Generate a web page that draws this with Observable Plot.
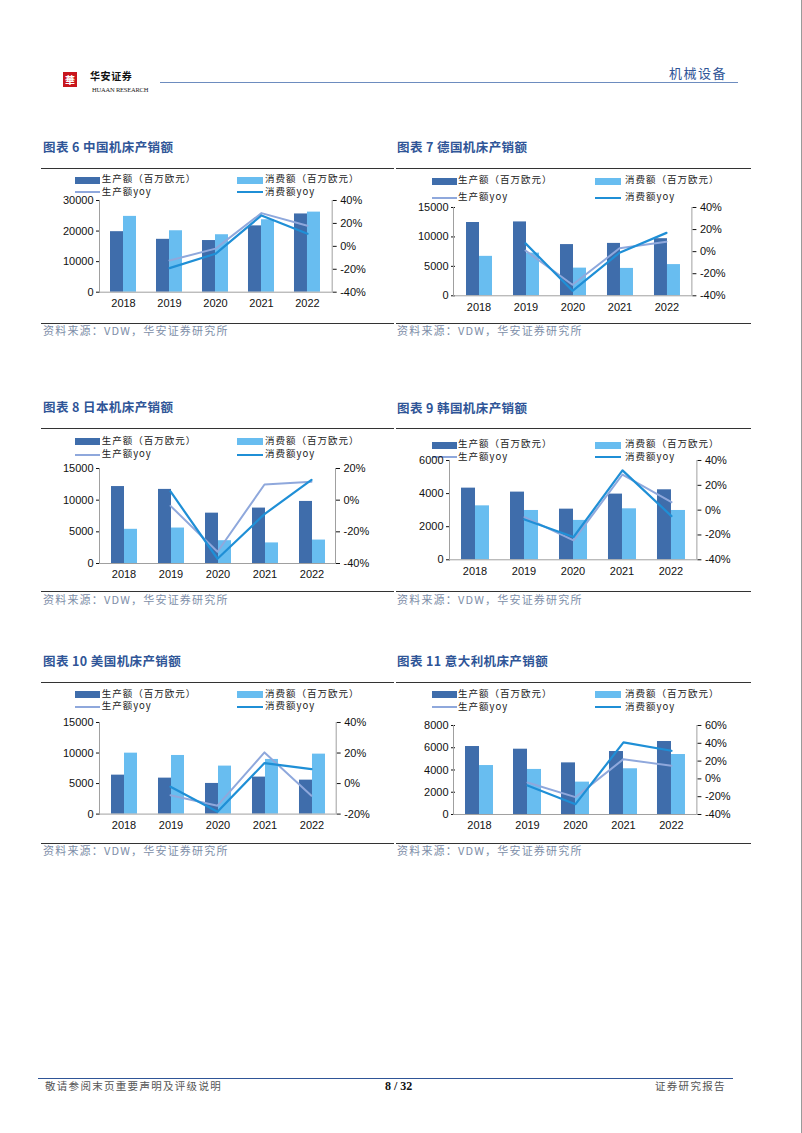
<!DOCTYPE html>
<html><head><meta charset="utf-8">
<script src="https://cdn.jsdelivr.net/npm/d3@7"></script>
<script src="https://cdn.jsdelivr.net/npm/@observablehq/plot@0.6"></script>
<style>
body{margin:0;background:#fff;}
#page{position:relative;width:802px;height:1133px;overflow:hidden;background:#fff;font-family:"Noto Sans CJK SC",sans-serif;border-right:1px solid #9a9a9a;box-sizing:border-box;}
.abs{position:absolute;white-space:nowrap;line-height:1;}
.rule{position:absolute;height:0;border-top:1px solid #333;}
.title{color:#2f5597;font-weight:bold;letter-spacing:0.4px;}
.src{color:#7d8ea8;letter-spacing:1.2px;}
.leg{letter-spacing:1px;color:#222;}
</style></head><body><div id="page"></div>
<script>
// ---------- data ----------
const years = ["2018","2019","2020","2021","2022"];
const seriesNames = ["生产额","消费额"];
const legendLabels = ["生产额（百万欧元）","消费额（百万欧元）","生产额yoy","消费额yoy"];
const sourceText = "资料来源：VDW，华安证券研究所";

const chinaProd = [19800,17300,16900,21700,25600];
const chinaCons = [24800,20100,18800,23700,26200];
const chinaProdYoy = [null,-12.4,-2,29,18];
const chinaConsYoy = [null,-19,-6.5,27,11];
const chinaLeftTicks = [0,10000,20000,30000];
const chinaRightTicks = [-40,-20,0,20,40];

const germanyProd = [12450,12550,8700,8900,9700];
const germanyCons = [6700,7250,4700,4650,5300];
const germanyProdYoy = [null,1,-30,3,9];
const germanyConsYoy = [null,7.5,-35.5,-1,17];
const germanyLeftTicks = [0,5000,10000,15000];
const germanyRightTicks = [-40,-20,0,20,40];

const japanProd = [12150,11700,7950,8750,9800];
const japanCons = [5400,5600,3600,3250,3700];
const japanProdYoy = [null,-3.6,-32.6,9.9,11.6];
const japanConsYoy = [null,5.5,-37,-8.8,12.8];
const japanLeftTicks = [0,5000,10000,15000];
const japanRightTicks = [-40,-20,0,20];

const koreaProd = [4330,4090,3060,3970,4230];
const koreaCons = [3260,2980,2380,3080,2980];
const koreaProdYoy = [null,-5.6,-24.4,28.7,6.4];
const koreaConsYoy = [null,-7.5,-21.7,32,-4.8];
const koreaLeftTicks = [0,2000,4000,6000];
const koreaRightTicks = [-40,-20,0,20,40];

const usProd = [6380,5890,5020,6060,5560];
const usCons = [9980,9600,7860,8950,9820];
const usProdYoy = [null,-7.6,-14.5,20.4,-8];
const usConsYoy = [null,-2.1,-18.5,13.4,9.5];
const usLeftTicks = [0,5000,10000,15000];
const usRightTicks = [-20,0,20,40];

const italyProd = [6110,5870,4640,5660,6560];
const italyCons = [4400,4050,2910,4110,5390];
const italyProdYoy = [null,-4,-20.5,22.2,14.7];
const italyConsYoy = [null,-7.4,-28.4,41,31.6];
const italyLeftTicks = [0,2000,4000,6000,8000];
const italyRightTicks = [-40,-20,0,20,40,60];

const C_PROD = "#3f6dab", C_CONS = "#68bdf0", C_PYOY = "#8fa8dc", C_CYOY = "#1f8fd6";

// ---------- layout ----------
const charts = [
  {title:"图表 6 中国机床产销额", prod:chinaProd, cons:chinaCons, py:chinaProdYoy, cy:chinaConsYoy, lt:chinaLeftTicks, rt:chinaRightTicks,
   px:43, L:99, R:331.7, T:200, B:291.7, titleY:148, topRule:167.7, botRule:322.7, srcY:331.7, legX:[75,101.7,236.7,265], legY:[180,192.3], rx:[41,394]},
  {title:"图表 7 德国机床产销额", prod:germanyProd, cons:germanyCons, py:germanyProdYoy, cy:germanyConsYoy, lt:germanyLeftTicks, rt:germanyRightTicks,
   px:397, L:453.3, R:691.7, T:206.7, B:295, titleY:148, topRule:167.7, botRule:322.7, srcY:331.7, legX:[431.7,458,595,625], legY:[181,197.7], rx:[396,751]},
  {title:"图表 8 日本机床产销额", prod:japanProd, cons:japanCons, py:japanProdYoy, cy:japanConsYoy, lt:japanLeftTicks, rt:japanRightTicks,
   px:43, L:99, R:335, T:467.7, B:562.7, titleY:408.7, topRule:428.3, botRule:591, srcY:600, legX:[75,101.7,236.7,265], legY:[441.7,455], rx:[41,394]},
  {title:"图表 9 韩国机床产销额", prod:koreaProd, cons:koreaCons, py:koreaProdYoy, cy:koreaConsYoy, lt:koreaLeftTicks, rt:koreaRightTicks,
   px:397, L:449.3, R:696.7, T:460, B:559.3, titleY:409, topRule:428.3, botRule:591, srcY:600, legX:[431.7,458,595,625], legY:[445,457.3], rx:[396,751]},
  {title:"图表 10 美国机床产销额", prod:usProd, cons:usCons, py:usProdYoy, cy:usConsYoy, lt:usLeftTicks, rt:usRightTicks,
   px:43, L:99, R:335.7, T:721.7, B:813.3, titleY:662, topRule:681.7, botRule:842.7, srcY:851.7, legX:[75,101.7,236.7,265], legY:[694.3,706.7], rx:[41,394]},
  {title:"图表 11 意大利机床产销额", prod:italyProd, cons:italyCons, py:italyProdYoy, cy:italyConsYoy, lt:italyLeftTicks, rt:italyRightTicks,
   px:397, L:453.3, R:696.7, T:725.3, B:814.3, titleY:662, topRule:681.7, botRule:842.7, srcY:851.7, legX:[431.7,458,595,625], legY:[694.3,707.3], rx:[396,751]}
];

const page = document.getElementById("page");
function addText(str, x, yc, cls, size, extra) {
  const d = document.createElement("div");
  d.className = "abs " + (cls||"");
  d.textContent = str;
  d.style.left = x + "px";
  d.style.top = (yc - size/2 - 1) + "px";
  d.style.fontSize = size + "px";
  if (extra) Object.assign(d.style, extra);
  page.appendChild(d);
  return d;
}
function addRule(x1, x2, y, color, w) {
  const d = document.createElement("div");
  d.className = "rule";
  d.style.left = x1 + "px"; d.style.width = (x2-x1) + "px"; d.style.top = y + "px";
  d.style.borderTop = (w||1) + "px solid " + (color||"#333");
  page.appendChild(d);
}
function addBox(x, y, w, h, color) {
  const d = document.createElement("div");
  d.style.cssText = `position:absolute;left:${x}px;top:${y}px;width:${w}px;height:${h}px;background:${color};`;
  page.appendChild(d);
  return d;
}

// header
const logo = addBox(63, 72, 14, 15, "#c8161d");
logo.style.cssText += "color:#fff;font-size:10px;line-height:15px;text-align:center;font-weight:bold;";
logo.textContent = "華";
addText("华安证券", 90, 76.5, "", 10, {fontWeight:"bold", letterSpacing:"0.6px", color:"#111"});
addText("HUAAN RESEARCH", 92, 91.5, "", 6.5, {fontFamily:"'Liberation Serif',serif", color:"#222", letterSpacing:"-0.2px"});
addRule(160, 738, 82, "#6d8cbf", 1);
addText("机械设备", 669, 73, "", 13, {color:"#2f5597", letterSpacing:"1.5px"});

// footer
addRule(38, 733, 1078, "#2f5597", 1.5);
addText("敬请参阅末页重要声明及评级说明", 45, 1087, "", 10.5, {color:"#555", letterSpacing:"1.3px"});
addText("8 / 32", 385, 1087, "", 12, {fontFamily:"'Liberation Serif',serif", fontWeight:"bold", color:"#111"});
addText("证券研究报告", 655, 1087, "", 10.5, {color:"#555", letterSpacing:"1.3px"});

function drawChart(c) {
  addText(c.title, c.px, c.titleY, "title", 12.5);
  addRule(c.rx[0], c.rx[1], c.topRule, "#333", 1);
  addRule(c.rx[0], c.rx[1], c.botRule, "#333", 1);
  addText(sourceText, c.px, c.srcY, "src", 11);
  // legend
  addBox(c.legX[0], c.legY[0]-3.5, 25, 7, C_PROD);
  addText(legendLabels[0], c.legX[1], c.legY[0], "leg", 9.5);
  addBox(c.legX[2], c.legY[0]-3.5, 26, 7, C_CONS);
  addText(legendLabels[1], c.legX[3], c.legY[0], "leg", 9.5);
  addBox(c.legX[0], c.legY[1]-1, 25, 2, C_PYOY);
  addText(legendLabels[2], c.legX[1], c.legY[1], "leg", 9.5);
  addBox(c.legX[2], c.legY[1]-1, 26, 2.2, C_CYOY);
  addText(legendLabels[3], c.legX[3], c.legY[1], "leg", 9.5);

  const mL=60, mR=50, mT=10, mB=25;
  const W = c.R - c.L, H = c.B - c.T;
  const width = W + mL + mR, height = H + mT + mB;
  const common = {width, height, marginLeft:mL, marginRight:mR, marginTop:mT, marginBottom:mB,
    style:{background:"transparent", fontFamily:"'Liberation Sans', Arial, sans-serif", fontSize:"11px", color:"#111", overflow:"visible", maxWidth:"none"}};
  const rows = years.flatMap((y,i) => [
    {year:y, series:seriesNames[0], value:c.prod[i]},
    {year:y, series:seriesNames[1], value:c.cons[i]}
  ]);
  const lt = c.lt, rt = c.rt;
  const bars = Plot.plot({...common,
    fx:{domain:years, padding:0, axis:"bottom", tickSize:0, tickPadding:7, label:null},
    x:{domain:seriesNames, paddingInner:0, paddingOuter:0.7, axis:null},
    y:{domain:[lt[0], lt[lt.length-1]], ticks:lt, tickFormat:d=>String(d), tickSize:4, tickPadding:3, label:null},
    color:{domain:seriesNames, range:[C_PROD, C_CONS]},
    marks:[Plot.barY(rows, {fx:"year", x:"series", y:"value", fill:"series"})]
  });
  const pRows = years.map((y,i)=>({year:y, value:c.py[i]})).filter(d=>d.value!=null);
  const cRows = years.map((y,i)=>({year:y, value:c.cy[i]})).filter(d=>d.value!=null);
  const lines = Plot.plot({...common,
    x:{type:"point", domain:years, padding:0.5, axis:null},
    y:{domain:[rt[0], rt[rt.length-1]], ticks:rt, tickFormat:d=>d+"%", axis:"right", tickSize:4, tickPadding:4, label:null},
    marks:[
      Plot.ruleY([rt[0]], {stroke:"#a0a0a0"}),
      Plot.frame({anchor:"left", stroke:"#a0a0a0"}),
      Plot.frame({anchor:"right", stroke:"#a0a0a0"}),
      Plot.line(pRows, {x:"year", y:"value", stroke:C_PYOY, strokeWidth:2}),
      Plot.line(cRows, {x:"year", y:"value", stroke:C_CYOY, strokeWidth:2.2})
    ]
  });
  for (const svg of [bars, lines]) {
    svg.style.position = "absolute";
    svg.style.left = (c.L - mL) + "px";
    svg.style.top = (c.T - mT) + "px";
    page.appendChild(svg);
  }
}
charts.forEach(drawChart);
</script></body></html>
